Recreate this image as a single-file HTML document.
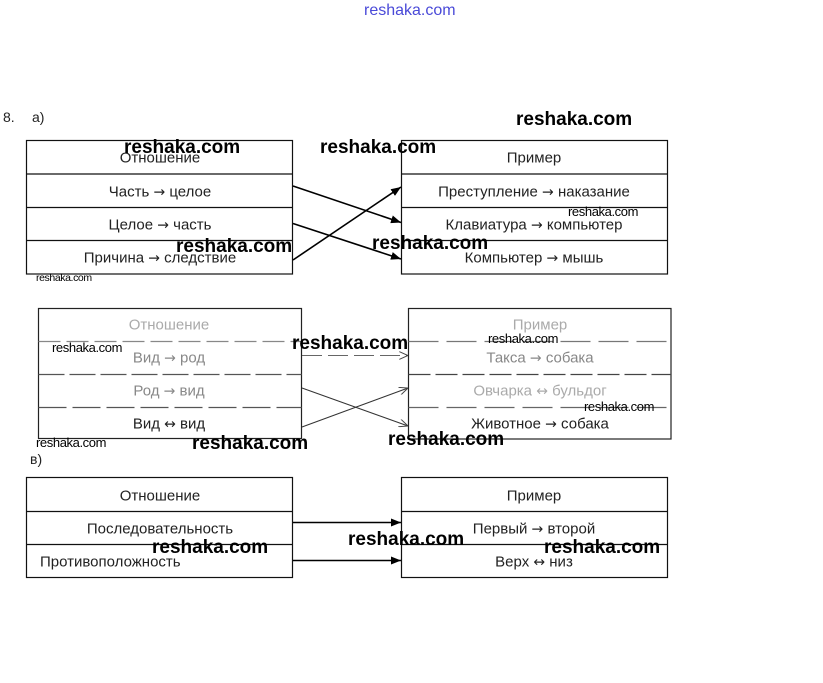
<!DOCTYPE html>
<html>
<head>
<meta charset="utf-8">
<style>
  html,body{margin:0;padding:0;background:#fff;}
  body{width:823px;height:683px;position:relative;overflow:hidden;font-family:"Liberation Sans","DejaVu Sans",sans-serif;}
  .t{position:absolute;white-space:nowrap;font-size:15px;color:#222;transform:translate(-50%,-50%);line-height:1;}
  .l{position:absolute;white-space:nowrap;font-size:15px;color:#222;line-height:1;transform:translateY(-50%);}
  .w{position:absolute;white-space:nowrap;font-weight:bold;font-size:19px;color:#000;line-height:1;}
  .ws{position:absolute;white-space:nowrap;font-size:13px;color:#000;line-height:1;letter-spacing:-0.4px;}
  .g{color:#888;}
  .g2{color:#aaa;}
  .a{font-family:"DejaVu Sans",sans-serif;font-size:14px;}
  svg{position:absolute;left:0;top:0;}
</style>
</head>
<body>
<svg width="823" height="683" viewBox="0 0 823 683">
  <defs>
    <marker id="ah" markerWidth="10" markerHeight="8" refX="10" refY="4" orient="auto" markerUnits="userSpaceOnUse">
      <path d="M0,0 L10,4 L0,8 Z" fill="#000"/>
    </marker>
    <marker id="ah2" markerWidth="9" markerHeight="8" refX="9" refY="4" orient="auto" markerUnits="userSpaceOnUse">
      <path d="M0,0 L9,4 L0,8" fill="none" stroke="#444" stroke-width="1"/>
    </marker>
  </defs>
  <!-- a) tables -->
  <g stroke="#111" stroke-width="1.2" fill="none">
    <rect x="26.5" y="140.5" width="266" height="133.5"/>
    <line x1="26.5" y1="174" x2="292.5" y2="174"/>
    <line x1="26.5" y1="207.5" x2="292.5" y2="207.5"/>
    <line x1="26.5" y1="240.5" x2="292.5" y2="240.5"/>
    <rect x="401.5" y="140.5" width="266" height="133.5"/>
    <line x1="401.5" y1="174" x2="667.5" y2="174"/>
    <line x1="401.5" y1="207.5" x2="667.5" y2="207.5"/>
    <line x1="401.5" y1="240.5" x2="667.5" y2="240.5"/>
  </g>
  <g stroke="#000" stroke-width="1.6">
    <line x1="293" y1="186" x2="401" y2="222.5" marker-end="url(#ah)"/>
    <line x1="293" y1="223.5" x2="401" y2="259" marker-end="url(#ah)"/>
    <line x1="293" y1="260" x2="401" y2="187" marker-end="url(#ah)"/>
  </g>
  <!-- b) tables -->
  <g fill="none">
    <rect x="38.5" y="308.5" width="263" height="130" stroke="#222" stroke-width="1.2"/>
    <line x1="38.5" y1="341.5" x2="301.5" y2="341.5" stroke="#888" stroke-width="1.2" stroke-dasharray="22,6"/>
    <line x1="38.5" y1="374.5" x2="301.5" y2="374.5" stroke="#555" stroke-width="1.2" stroke-dasharray="26,5"/>
    <line x1="38.5" y1="407.5" x2="301.5" y2="407.5" stroke="#555" stroke-width="1.2" stroke-dasharray="28,6"/>
    <rect x="408.5" y="308.5" width="262.5" height="130.5" stroke="#222" stroke-width="1.2"/>
    <line x1="408.5" y1="341.5" x2="671" y2="341.5" stroke="#777" stroke-width="1.2" stroke-dasharray="30,8"/>
    <line x1="408.5" y1="374.5" x2="671" y2="374.5" stroke="#444" stroke-width="1.2" stroke-dasharray="22,5"/>
    <line x1="408.5" y1="407.5" x2="671" y2="407.5" stroke="#666" stroke-width="1.2" stroke-dasharray="30,8"/>
  </g>
  <g stroke="#333" stroke-width="1">
    <line x1="302" y1="355.5" x2="408" y2="355.5" stroke="#666" stroke-dasharray="20,6" marker-end="url(#ah2)"/>
    <line x1="302" y1="388" x2="408" y2="426" marker-end="url(#ah2)"/>
    <line x1="302" y1="427" x2="408" y2="388" marker-end="url(#ah2)"/>
  </g>
  <!-- c) tables -->
  <g stroke="#111" stroke-width="1.2" fill="none">
    <rect x="26.5" y="477.5" width="266" height="100"/>
    <line x1="26.5" y1="511.5" x2="292.5" y2="511.5"/>
    <line x1="26.5" y1="544.5" x2="292.5" y2="544.5"/>
    <rect x="401.5" y="477.5" width="266" height="100"/>
    <line x1="401.5" y1="511.5" x2="667.5" y2="511.5"/>
    <line x1="401.5" y1="544.5" x2="667.5" y2="544.5"/>
  </g>
  <g stroke="#000" stroke-width="1.6">
    <line x1="293" y1="522.5" x2="401" y2="522.5" marker-end="url(#ah)"/>
    <line x1="293" y1="560.5" x2="401" y2="560.5" marker-end="url(#ah)"/>
  </g>
</svg>

<!-- top watermark -->
<div class="ws" style="left:364px;top:3px;font-size:16px;color:#4a4ad8;letter-spacing:0;">reshaka.com</div>

<!-- labels -->
<div class="l" style="left:3px;top:117px;font-size:14px;">8.</div>
<div class="l" style="left:32px;top:117px;font-size:14px;">а)</div>
<div class="l" style="left:30px;top:459px;font-size:14px;">в)</div>

<!-- a) texts -->
<div class="t" style="left:160px;top:158px;">Отношение</div>
<div class="t" style="left:160px;top:192px;">Часть <span class="a">→</span> целое</div>
<div class="t" style="left:160px;top:225px;">Целое <span class="a">→</span> часть</div>
<div class="t" style="left:160px;top:258px;">Причина <span class="a">→</span> следствие</div>
<div class="t" style="left:534px;top:158px;">Пример</div>
<div class="t" style="left:534px;top:192px;">Преступление <span class="a">→</span> наказание</div>
<div class="t" style="left:534px;top:225px;">Клавиатура <span class="a">→</span> компьютер</div>
<div class="t" style="left:534px;top:258px;">Компьютер <span class="a">→</span> мышь</div>

<!-- b) texts -->
<div class="t g2" style="left:169px;top:325px;">Отношение</div>
<div class="t g" style="left:169px;top:358px;">Вид <span class="a">→</span> род</div>
<div class="t g" style="left:169px;top:391px;">Род <span class="a">→</span> вид</div>
<div class="t" style="left:169px;top:424px;">Вид <span class="a">↔</span> вид</div>
<div class="t g2" style="left:540px;top:325px;">Пример</div>
<div class="t g" style="left:540px;top:358px;">Такса <span class="a">→</span> собака</div>
<div class="t g2" style="left:540px;top:391px;">Овчарка <span class="a">↔</span> бульдог</div>
<div class="t" style="left:540px;top:424px;">Животное <span class="a">→</span> собака</div>

<!-- c) texts -->
<div class="t" style="left:160px;top:496px;">Отношение</div>
<div class="t" style="left:160px;top:529px;">Последовательность</div>
<div class="l" style="left:40px;top:562px;">Противоположность</div>
<div class="t" style="left:534px;top:496px;">Пример</div>
<div class="t" style="left:534px;top:529px;">Первый <span class="a">→</span> второй</div>
<div class="t" style="left:534px;top:562px;">Верх <span class="a">↔</span> низ</div>

<!-- big watermarks -->
<div class="w" style="left:516px;top:110px;">reshaka.com</div>
<div class="w" style="left:124px;top:138px;">reshaka.com</div>
<div class="w" style="left:320px;top:138px;">reshaka.com</div>
<div class="w" style="left:176px;top:237px;">reshaka.com</div>
<div class="w" style="left:372px;top:234px;">reshaka.com</div>
<div class="w" style="left:292px;top:334px;">reshaka.com</div>
<div class="w" style="left:388px;top:430px;">reshaka.com</div>
<div class="w" style="left:192px;top:434px;">reshaka.com</div>
<div class="w" style="left:152px;top:538px;">reshaka.com</div>
<div class="w" style="left:348px;top:530px;">reshaka.com</div>
<div class="w" style="left:544px;top:538px;">reshaka.com</div>

<!-- small watermarks -->
<div class="ws" style="left:568px;top:205px;">reshaka.com</div>
<div class="ws" style="left:36px;top:273px;font-size:10.5px;">reshaka.com</div>
<div class="ws" style="left:52px;top:341px;">reshaka.com</div>
<div class="ws" style="left:488px;top:332px;">reshaka.com</div>
<div class="ws" style="left:584px;top:400px;">reshaka.com</div>
<div class="ws" style="left:36px;top:436px;">reshaka.com</div>
</body>
</html>
